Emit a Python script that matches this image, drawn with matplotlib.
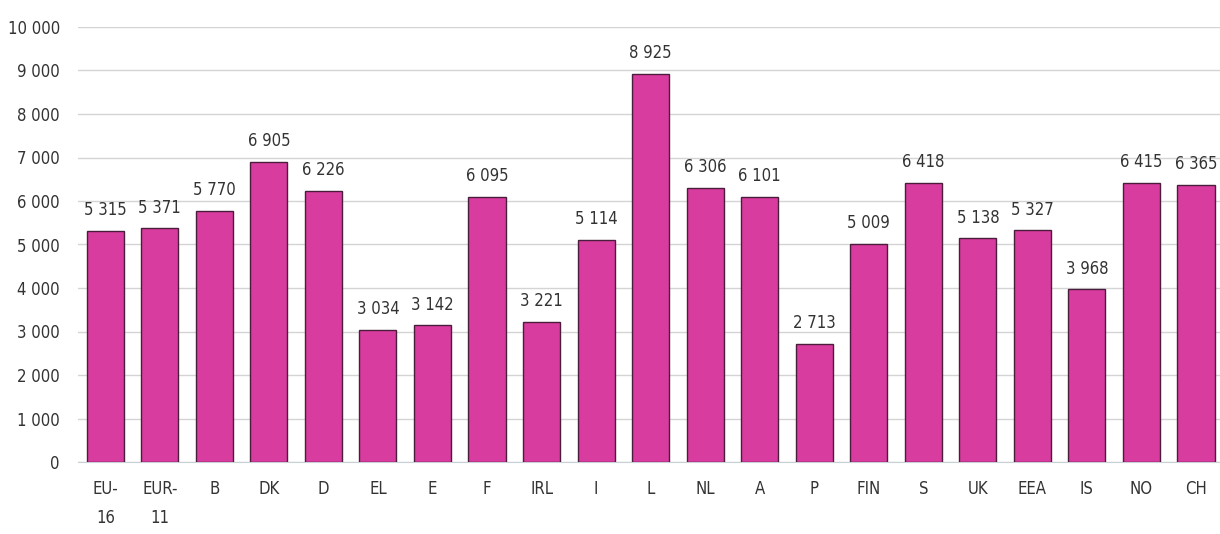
import matplotlib
matplotlib.use("Agg")
import matplotlib.pyplot as plt
from matplotlib.ticker import FuncFormatter

# ── data ──────────────────────────────────────────────
countries = ["EU-\n16", "EUR-\n11", "B", "DK", "D", "EL", "E", "F", "IRL", "I", "L",
             "NL", "A", "P", "FIN", "S", "UK", "EEA", "IS", "NO", "CH"]
values = [5315, 5371, 5770, 6905, 6226, 3034, 3142, 6095, 3221, 5114, 8925,
          6306, 6101, 2713, 5009, 6418, 5138, 5327, 3968, 6415, 6365]
yticks = list(range(0, 10001, 1000))

plt.rcParams['font.family'] = ['DejaVu Sans']
plt.rcParams['font.stretch'] = 'condensed'

def fmt(v):
    return f"{int(v):,}".replace(",", " ")

fig = plt.figure(figsize=(12.2, 5.34), dpi=100)
ax = fig.add_axes([78/1220, 1 - 462/534, (1220 - 78)/1220, (462 - 27)/534])

x = range(len(values))
ax.bar(x, values, width=0.68, color='#d83c9f', edgecolor='#4a1d3c', linewidth=1.0, zorder=3)

for xi, v in zip(x, values):
    ax.text(xi, v + 270, fmt(v), ha='center', va='bottom',
            fontsize=12, color='#333333')

ax.set_xlim(-0.5, 20.44)
ax.set_ylim(0, 10000)
ax.set_yticks(yticks)
ax.yaxis.set_major_formatter(FuncFormatter(lambda v, p: fmt(v)))
ax.grid(axis='y', color='#d4d4d4', linewidth=1.0, zorder=0)
ax.set_xticks(list(x))
ax.set_xticklabels(countries, fontsize=12, color='#333333', linespacing=1.8)
ax.tick_params(axis='y', labelsize=12, colors='#333333', length=0, pad=13)
ax.tick_params(axis='x', length=0, pad=13)
for s in ['top', 'right', 'left']:
    ax.spines[s].set_visible(False)
ax.spines['bottom'].set_color('#c8d0d8')

fig.savefig("out.png", dpi=100)
